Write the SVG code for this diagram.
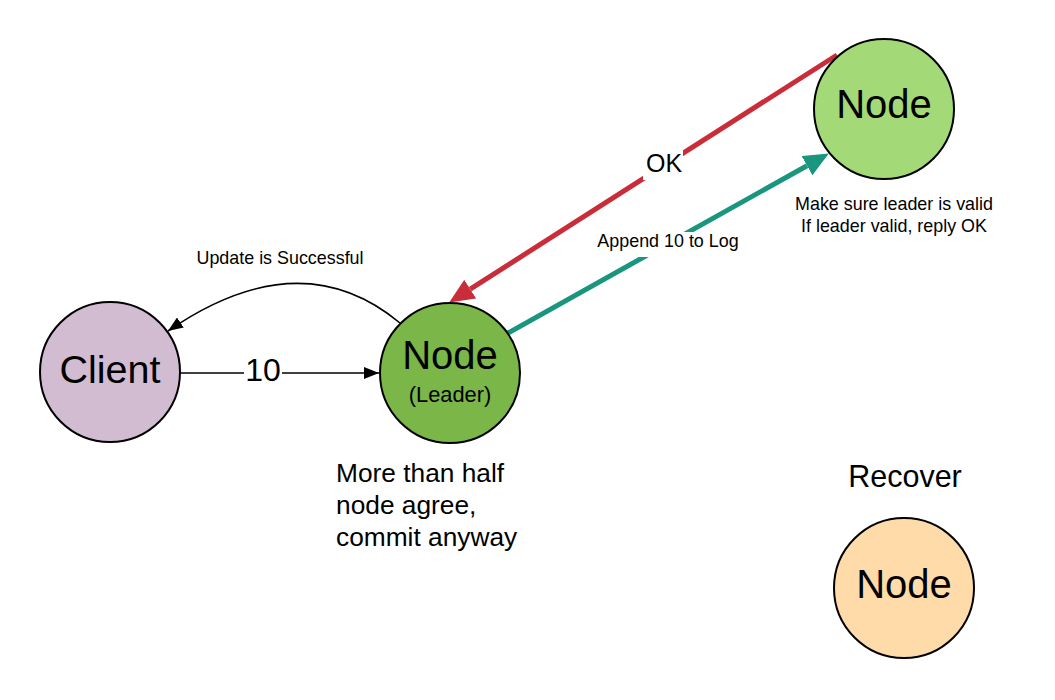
<svg xmlns="http://www.w3.org/2000/svg" width="1055" height="700" viewBox="0 0 1055 700">
<style>
text{font-family:"Liberation Sans",Arial,sans-serif;fill:#000}
.node{stroke:#000;stroke-width:2}
.c{text-anchor:middle}
.bg{fill:#fff}
</style>
<defs>
<marker id="ab" markerUnits="userSpaceOnUse" markerWidth="16" markerHeight="12" refX="15" refY="6" orient="auto"><path d="M0,0 L15,6 L0,12 Z" fill="#000"/></marker>
<marker id="ar" markerUnits="userSpaceOnUse" markerWidth="26" markerHeight="22" refX="0" refY="11" orient="auto"><path d="M0,0 L25,11 L0,22 Z" fill="#c92d39"/></marker>
<marker id="ag" markerUnits="userSpaceOnUse" markerWidth="26" markerHeight="22" refX="0" refY="11" orient="auto"><path d="M0,0 L25,11 L0,22 Z" fill="#19967d"/></marker>
</defs>
<rect width="1055" height="700" fill="#fff"/>
<g id="connectors" fill="none">
<path d="M837,55 L470.2,289.1" stroke="#c92d39" stroke-width="5" marker-end="url(#ar)"/>
<path d="M508,333 L807,165.7" stroke="#19967d" stroke-width="5" marker-end="url(#ag)"/>
<path d="M180,373 L379,373" stroke="#000" stroke-width="1.6" marker-end="url(#ab)"/>
<path d="M400,323 Q300,240 168,331" stroke="#000" stroke-width="1.6" marker-end="url(#ab)"/>
<rect class="bg" x="643" y="150" width="40" height="30"/>
<text class="c" x="664" y="172" font-size="25">OK</text>
<rect class="bg" x="596" y="232" width="145" height="25"/>
<text class="c" x="668" y="247" font-size="17.9">Append 10 to Log</text>
<rect class="bg" x="244" y="357" width="38" height="30"/>
<text class="c" x="263" y="381" font-size="32">10</text>
<text class="c" x="280" y="264" font-size="17.9">Update is Successful</text>
</g>
<g id="client">
<circle class="node" cx="110" cy="372" r="70" fill="#d1bcd2"/>
<text class="c" x="110" y="383" font-size="39.5">Client</text>
</g>
<g id="leader">
<circle class="node" cx="450" cy="373" r="70" fill="#7ab648"/>
<text class="c" x="450" y="369" font-size="40">Node</text>
<text class="c" x="450" y="402" font-size="21.8">(Leader)</text>
</g>
<g id="follower">
<circle class="node" cx="884" cy="109" r="70" fill="#a3d977"/>
<text class="c" x="884" y="118" font-size="40">Node</text>
<text class="c" x="894" y="210" font-size="17.9">Make sure leader is valid</text>
<text class="c" x="894" y="232" font-size="17.9">If leader valid, reply OK</text>
</g>
<g id="recover">
<text class="c" x="905" y="487" font-size="30.5">Recover</text>
<circle class="node" cx="904" cy="588" r="70" fill="#ffdba9"/>
<text class="c" x="904" y="598" font-size="40">Node</text>
</g>
<g id="note">
<text x="336" y="482" font-size="26.3">More than half</text>
<text x="336" y="514" font-size="26.3">node agree,</text>
<text x="336" y="546" font-size="26.3">commit anyway</text>
</g>
</svg>
